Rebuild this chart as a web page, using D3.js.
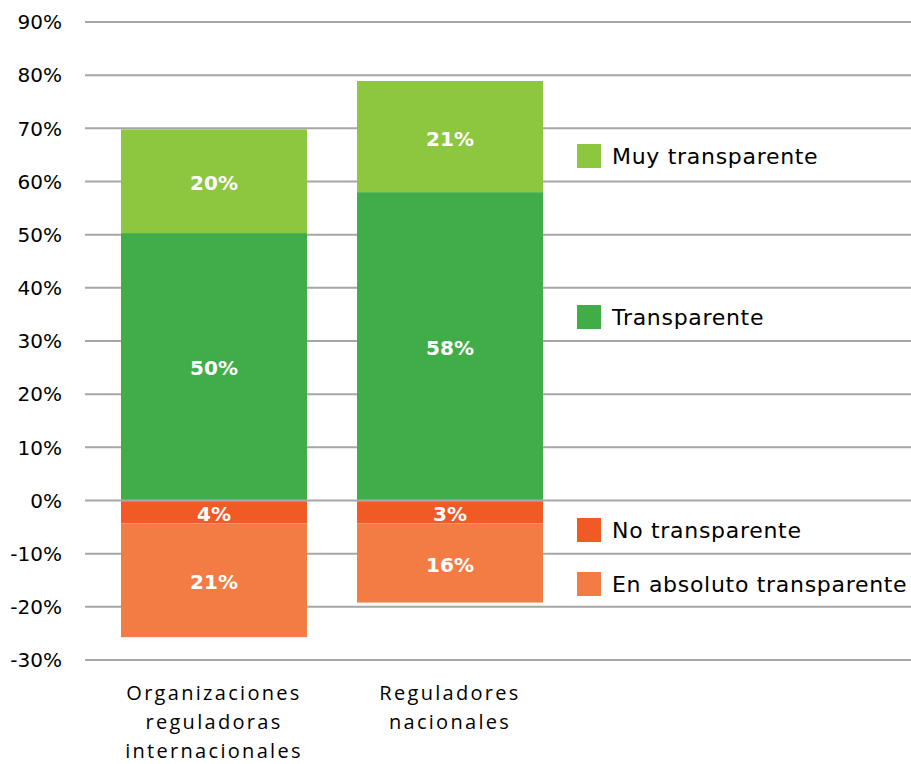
<!DOCTYPE html>
<html lang="es">
<head>
<meta charset="utf-8" />
<title>Transparencia</title>
<script src="https://d3js.org/d3.v7.min.js"></script>
<style>
  body { margin: 0; background: #fff; }
  text { font-family: "DejaVu Sans", sans-serif; }
</style>
</head>
<body>
<div id="chart"></div>
<script>
// data
const categories = [
  ["Organizaciones", "reguladoras", "internacionales"],
  ["Reguladores", "nacionales"]
];
const seriesNames = ["Muy transparente", "Transparente", "No transparente", "En absoluto transparente"];
const seriesColors = ["#8dc63f", "#41ad49", "#f15a24", "#f37c45"];
// positive stack (from 0 upward): Transparente, then Muy transparente
const transparente = [50.3, 58.0];
const muyTransparente = [19.5, 20.9];
// negative stack (from 0 downward): No transparente, then En absoluto
const noTransparente = [4.3, 4.3];
const enAbsoluto = [21.4, 14.9];
// labels as printed on the bars
const lblTransparente = ["50%", "58%"];
const lblMuy = ["20%", "21%"];
const lblNo = ["4%", "3%"];
const lblAbs = ["21%", "16%"];
const yTicks = [-30, -20, -10, 0, 10, 20, 30, 40, 50, 60, 70, 80, 90];

const width = 911, height = 764;
const svg = d3.select("#chart").append("svg")
  .attr("width", width).attr("height", height);

const y = d3.scaleLinear().domain([-30, 90]).range([660, 22]);
const x = d3.scaleBand().domain(d3.range(categories.length))
  .range([121, 543]).paddingInner(0.212).paddingOuter(0);

// gridlines
svg.append("g").selectAll("line").data(yTicks).join("line")
  .attr("x1", 85).attr("x2", 911)
  .attr("y1", d => y(d)).attr("y2", d => y(d))
  .attr("stroke", "#a6a6a6").attr("stroke-width", 2);

// y tick labels
svg.append("g").selectAll("text").data(yTicks).join("text")
  .attr("x", 62).attr("y", d => y(d)).attr("dy", "0.36em")
  .attr("text-anchor", "end").attr("font-size", 20).attr("fill", "#000")
  .text(d => d + "%");

// build segments
const segs = [];
categories.forEach((c, i) => {
  segs.push({ i, y0: 0.15, y1: transparente[i], color: seriesColors[1], label: lblTransparente[i] });
  segs.push({ i, y0: transparente[i], y1: transparente[i] + muyTransparente[i], color: seriesColors[0], label: lblMuy[i] });
  segs.push({ i, y0: -noTransparente[i], y1: -0.15, color: seriesColors[2], label: lblNo[i] });
  segs.push({ i, y0: -noTransparente[i] - enAbsoluto[i], y1: -noTransparente[i], color: seriesColors[3], label: lblAbs[i] });
});

svg.append("g").selectAll("rect").data(segs).join("rect")
  .attr("x", d => x(d.i)).attr("width", x.bandwidth())
  .attr("y", d => y(d.y1)).attr("height", d => y(d.y0) - y(d.y1))
  .attr("fill", d => d.color);

svg.append("g").selectAll("text").data(segs).join("text")
  .attr("x", d => x(d.i) + x.bandwidth() / 2)
  .attr("y", d => (y(d.y0) + y(d.y1)) / 2).attr("dy", "0.45em")
  .attr("text-anchor", "middle").attr("font-size", 20).attr("font-weight", "bold")
  .attr("fill", "#fff")
  .text(d => d.label);

// category labels
const cat = svg.append("g").selectAll("text").data(categories).join("text")
  .attr("text-anchor", "middle").attr("font-size", 20).attr("fill", "#000")
  .style("font-family", "'Open Sans', sans-serif").style("letter-spacing", "2.3px")
  .attr("transform", (d, i) => `translate(${x(i) + x.bandwidth() / 2},700)`);
cat.selectAll("tspan").data(d => d).join("tspan")
  .attr("x", 0).attr("y", (d, j) => j * 29).text(d => d);

// legend
const legendY = [156, 317, 530, 584];
const legend = svg.append("g").selectAll("g").data(seriesNames).join("g")
  .attr("transform", (d, i) => `translate(577,${legendY[i]})`);
legend.append("rect").attr("x", 0).attr("y", -12).attr("width", 24).attr("height", 24)
  .attr("fill", (d, i) => seriesColors[i]);
legend.append("text").attr("x", 35).attr("y", 0).attr("dy", "0.36em")
  .attr("font-size", 22).style("letter-spacing", "0.7px").attr("fill", "#000").text(d => d);
</script>
</body>
</html>
